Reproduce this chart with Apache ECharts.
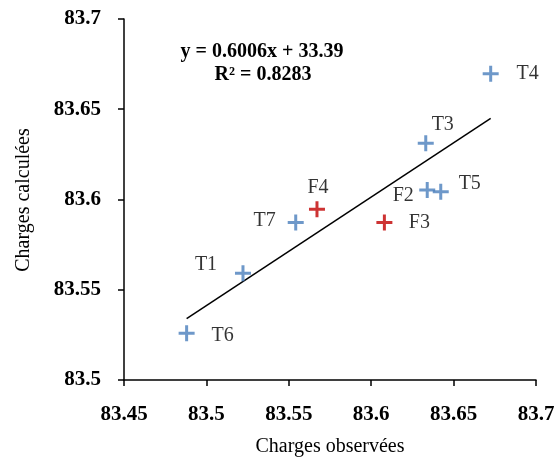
<!DOCTYPE html>
<html><head><meta charset="utf-8">
<script src="https://cdn.jsdelivr.net/npm/echarts@6/dist/echarts.min.js"></script>
<style>html,body{margin:0;padding:0;background:#fff}#c{width:559px;height:465px}</style>
</head><body><div id="c"></div>
<script>
// Data
var blueNames = ['T1','T3','T4','T5','T6','T7','F2'];
var blueX = [83.5222, 83.6331, 83.6725, 83.6422, 83.4880, 83.5542, 83.6340];
var blueY = [83.5591, 83.6311, 83.6697, 83.6043, 83.5259, 83.5872, 83.6053];
var redNames = ['F3','F4'];
var redX = [83.6080, 83.5671];
var redY = [83.5872, 83.5946];
var trendX = [83.4880, 83.6725];
var trendY = [83.5340, 83.6450];
var xTicks = {min: 83.45, max: 83.7, interval: 0.05};
var yTicks = {min: 83.5, max: 83.7, interval: 0.05};
var equationText = ['y = 0.6006x + 33.39', 'R² = 0.8283'];
var xTitle = 'Charges observées';
var yTitle = 'Charges calculées';

// label placement (styling)
var labelOffsets = {
  T1: [-37, -9], T3: [17, -19], T4: [37, 0], T5: [29, -8], T6: [36, 2],
  T7: [-31, -2], F2: [-24, 6], F3: [35, 0], F4: [1, -21]
};

var FONT = '"Liberation Serif", "Times New Roman", serif';
var plus = 'path://M0,6.5H16V9.5H0Z M6.5,0H9.5V16H6.5Z';

function pts(names, xs, ys) {
  return names.map(function (n, i) {
    return {
      name: n, value: [xs[i], ys[i]],
      label: { show: true, position: 'inside', offset: labelOffsets[n], formatter: n,
               color: '#000', fontFamily: FONT, fontSize: 20, textBorderWidth: 0, textBorderColor: 'transparent' }
    };
  });
}
function fmt(v) { return String(+v.toFixed(2)); }

var chart = echarts.init(document.getElementById('c'));
chart.setOption({
  animation: false,
  grid: { left: 124, right: 23, top: 19, bottom: 85, containLabel: false },
  xAxis: {
    type: 'value', min: xTicks.min, max: xTicks.max, interval: xTicks.interval,
    axisLine: { lineStyle: { color: '#000', width: 1.5 } },
    axisTick: { show: true, length: 6, lineStyle: { color: '#000', width: 1.5 } },
    splitLine: { show: false },
    axisLabel: { formatter: fmt, color: '#000', fontFamily: FONT, fontWeight: 'bold', fontSize: 21, margin: 24 }
  },
  yAxis: {
    type: 'value', min: yTicks.min, max: yTicks.max, interval: yTicks.interval,
    axisLine: { show: true, lineStyle: { color: '#000', width: 1.5 } },
    axisTick: { show: true, length: 6, lineStyle: { color: '#000', width: 1.5 } },
    splitLine: { show: false },
    axisLabel: { formatter: fmt, color: '#000', fontFamily: FONT, fontWeight: 'bold', fontSize: 21, margin: 23 }
  },
  series: [
    {
      type: 'line', data: trendX.map(function (x, i) { return [x, trendY[i]]; }),
      showSymbol: false, symbol: 'none', lineStyle: { color: '#000', width: 1.5 }, silent: true, z: 1
    },
    {
      type: 'scatter', data: pts(blueNames, blueX, blueY), symbol: plus, symbolSize: 16,
      itemStyle: { color: '#4a7ebb' }, z: 3
    },
    {
      type: 'scatter', data: pts(redNames, redX, redY), symbol: plus, symbolSize: 16,
      itemStyle: { color: '#c00000' }, z: 3
    }
  ],
  graphic: [
    { type: 'text', x: 262, y: 52, style: { text: equationText[0], align: 'center', verticalAlign: 'middle', fill: '#000', font: 'bold 20px ' + FONT } },
    { type: 'text', x: 263, y: 75, style: { text: equationText[1], align: 'center', verticalAlign: 'middle', fill: '#000', font: 'bold 20px ' + FONT } },
    { type: 'text', x: 330, y: 447, style: { text: xTitle, align: 'center', verticalAlign: 'middle', fill: '#000', font: '20px ' + FONT } },
    { type: 'text', x: 24, y: 200, rotation: Math.PI / 2, style: { text: yTitle, align: 'center', verticalAlign: 'middle', fill: '#000', font: '20px ' + FONT } }
  ]
});
</script>
</body></html>
